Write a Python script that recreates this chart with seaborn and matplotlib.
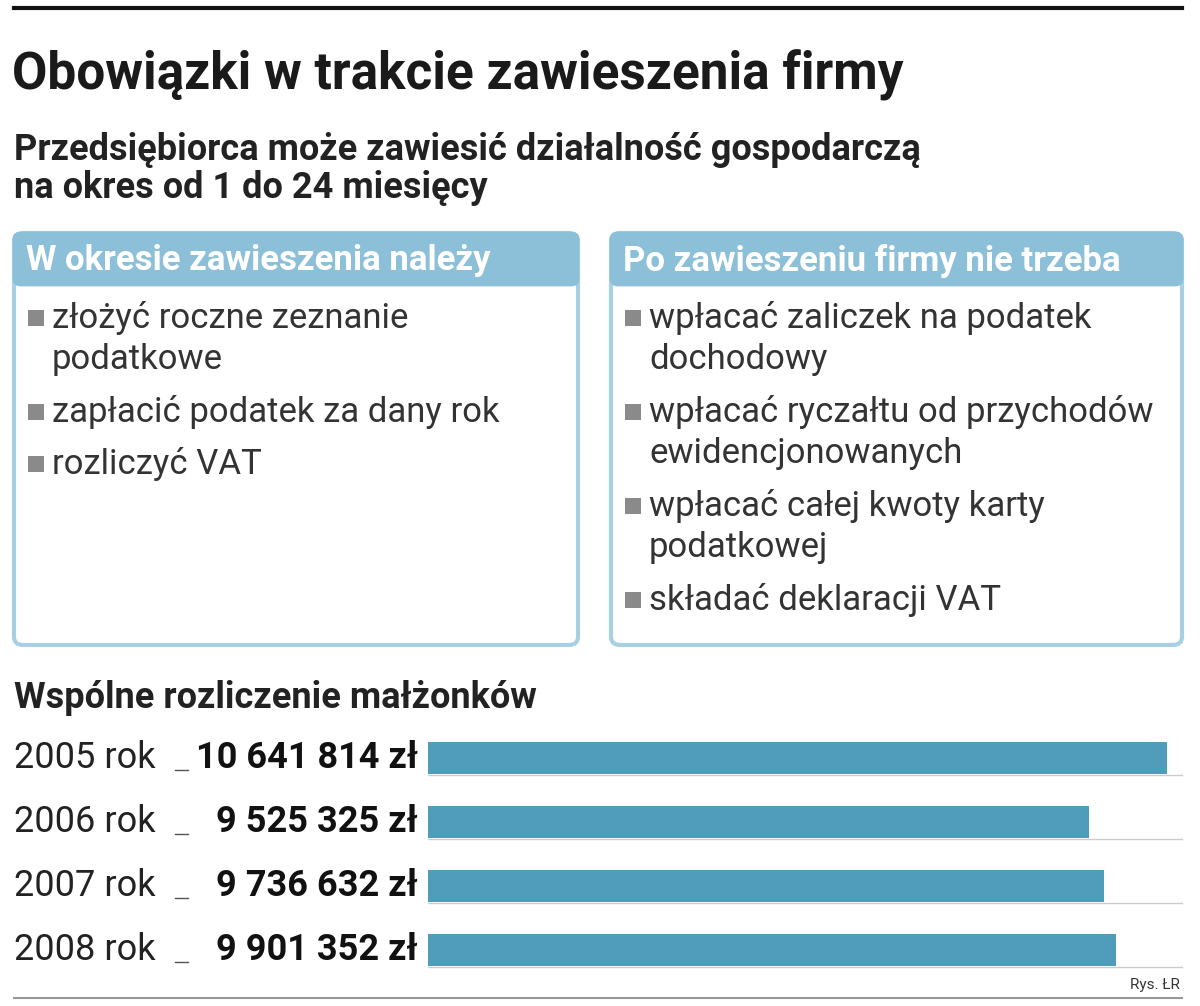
import matplotlib
matplotlib.use("Agg")
import matplotlib.pyplot as plt
import seaborn as sns
import pandas as pd
from matplotlib.patches import FancyBboxPatch, Rectangle
from matplotlib.lines import Line2D

years = ["2005 rok", "2006 rok", "2007 rok", "2008 rok"]
values = [10641814, 9525325, 9736632, 9901352]
value_labels = ["10 641 814 zł", "9 525 325 zł", "9 736 632 zł", "9 901 352 zł"]
left_title = "W okresie zawieszenia należy"
left_items = [["złożyć roczne zeznanie", "podatkowe"], ["zapłacić podatek za dany rok"], ["rozliczyć VAT"]]
right_title = "Po zawieszeniu firmy nie trzeba"
right_items = [["wpłacać zaliczek na podatek", "dochodowy"],
               ["wpłacać ryczałtu od przychodów", "ewidencjonowanych"],
               ["wpłacać całej kwoty karty", "podatkowej"],
               ["składać deklaracji VAT"]]

W, H = 1200, 1006
fig = plt.figure(figsize=(12, 10.06), dpi=100)
fig.patch.set_facecolor("white")
def P(x, y): return (x / W, 1 - y / H)
def T(x, y, s, **kw):
    fig.text(*P(x, y), s, **kw)

BLUE = "#4f9dbb"; HEAD = "#8cc0d8"; BORDER = "#a9d0e2"; TXT = "#222222"
fig.add_artist(Line2D([14/W, 1182/W], [P(0, 8)[1]]*2, color="#111111", lw=3))
T(12, 75, "Obowiązki w trakcie zawieszenia firmy", fontsize=37, fontweight="bold",
  family="Roboto", va="center", color="#1a1a1a")
T(14, 150, "Przedsiębiorca może zawiesić działalność gospodarczą", fontsize=26, fontweight="bold", va="center", family="Roboto", color=TXT)
T(14, 188, "na okres od 1 do 24 miesięcy", fontsize=26, fontweight="bold", va="center", family="Roboto", color=TXT)

def box(x0, x1, title, items):
    y0, y1 = 233, 645
    b = FancyBboxPatch(P(x0, y1), (x1-x0)/W, (y1-y0)/H, boxstyle="round,pad=0,rounding_size=0.008",
                       transform=fig.transFigure, fc="white", ec=BORDER, lw=3)
    fig.add_artist(b)
    fig.add_artist(FancyBboxPatch(P(x0, 285), (x1-x0)/W, 52/H, boxstyle="round,pad=0,rounding_size=0.006",
                                  transform=fig.transFigure, fc=HEAD, ec=HEAD, lw=2))
    T(x0 + 12, 261, title, fontsize=25, fontweight="bold", color="white", va="center", family="Roboto")
    y = 318
    for it in items:
        fig.add_artist(Rectangle(P(x0 + 14, y + 8), 16/W, 16/H, transform=fig.transFigure, fc="#8a8a8a", ec="none"))
        for line in it:
            T(x0 + 38, y, line, fontsize=25, color="#333333", va="center", family="Roboto")
            y += 42
        y += 10
box(14, 578, left_title, left_items)
box(611, 1182, right_title, right_items)

T(14, 698, "Wspólne rozliczenie małżonków", fontsize=26, fontweight="bold", va="center", family="Roboto", color=TXT)

ytop, ybot = 726, 982
ax = fig.add_axes([428/W, 1 - ybot/H, (1182-428)/W, (ybot-ytop)/H])
df = pd.DataFrame({"year": years, "value": values})
sns.barplot(data=df, x="value", y="year", orient="h", color=BLUE, saturation=1, width=0.5, ax=ax)
ax.set_xlim(0, values[0] * 754 / 739)
ax.axis("off")
for i, (yr, vl) in enumerate(zip(years, value_labels)):
    yc = 758 + 64 * i
    T(14, yc, yr, fontsize=26, va="center", family="Roboto", color=TXT)
    T(418, yc, vl, fontsize=26, va="center", ha="right", family="Roboto", fontweight="bold", color="#111111")
    fig.add_artist(Line2D([175/W, 188/W], [P(0, yc + 12)[1]]*2, color="#555555", lw=1))
    fig.add_artist(Line2D([428/W, 1182/W], [P(0, yc + 17)[1]]*2, color="#cccccc", lw=1))
fig.add_artist(Line2D([14/W, 1182/W], [P(0, 998)[1]]*2, color="#999999", lw=1.5))
T(1180, 985, "Rys. ŁR", fontsize=11, ha="right", va="center", family="Roboto", color="#333333")
fig.savefig("out.png", dpi=100)
